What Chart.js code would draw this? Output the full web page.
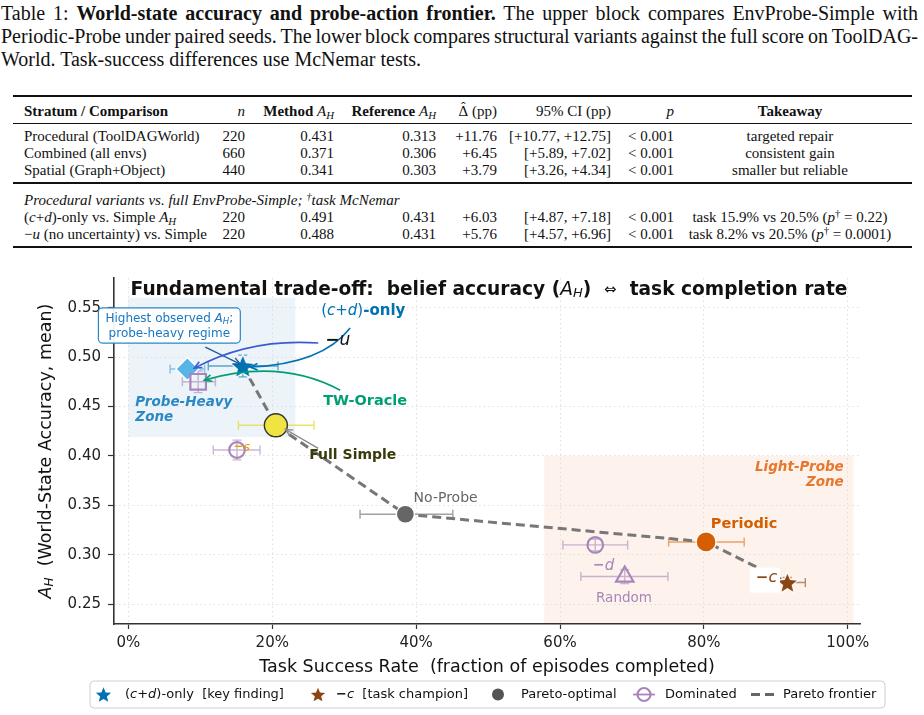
<!DOCTYPE html>
<html>
<head>
<meta charset="utf-8">
<title>World-state accuracy and probe-action frontier</title>
<script src="https://cdn.jsdelivr.net/npm/chart.js@4.4.1/dist/chart.umd.min.js"></script>
<style>
    body { margin: 0; background: #fff; }
    #page { position: relative; width: 924px; height: 715px; overflow: hidden; font-family: "Liberation Serif", "Times New Roman", serif; color: #111; }
    .capLine { position: absolute; left: 1px; font-size: 20px; line-height: 23px; white-space: nowrap; }
    .rule { position: absolute; left: 13px; width: 899px; background: #111; }
    .cell { position: absolute; font-size: 15px; line-height: 17px; height: 17px; white-space: nowrap; }
    .head b { font-weight: bold; }
    sub { font-size: 0.72em; vertical-align: -0.28em; line-height: 0; }
    sup { font-size: 0.72em; vertical-align: 0.5em; line-height: 0; }
    .hat { position: relative; display: inline-block; }
    .hat::after { content: "\02C6"; position: absolute; left: 0; right: 0; top: -4px; text-align: center; font-size: 14px; }
    #chartBox { position: absolute; left: 0; top: 262px; width: 924px; height: 453px; }
</style>
</head>
<body>
<div id="page">
    <div class="capLine just" style="top: 2px;">Table 1: <b>World-state accuracy and probe-action frontier.</b> The upper block compares EnvProbe-Simple with</div>
    <div class="capLine just" style="top: 25px;">Periodic-Probe under paired seeds. The lower block compares structural variants against the full score on ToolDAG-</div>
    <div class="capLine" style="top: 48px;">World. Task-success differences use McNemar tests.</div>

    <div class="rule" style="top: 95px; height: 1.6px;"></div>
    <div class="rule" style="top: 123px; height: 0.9px;"></div>
    <div class="rule" style="top: 182px; height: 1.5px;"></div>
    <div class="rule" style="top: 246px; height: 1.6px;"></div>
    <div id="tableBox"></div>

    <div id="chartBox"><canvas id="bieuDo" width="924" height="453"></canvas></div>
</div>

<script>
// table text
const tableHead = ["<b>Stratum / Comparison</b>", "<i>n</i>", "<b>Method</b> <i>A<sub>H</sub></i>", "<b>Reference</b> <i>A<sub>H</sub></i>",
    "<span class=\"hat\">&Delta;</span> (pp)", "95% CI (pp)", "<i>p</i>", "<b>Takeaway</b>"];
const tableRows = [
    ["Procedural (ToolDAGWorld)", "220", "0.431", "0.313", "+11.76", "[+10.77, +12.75]", "&lt; 0.001", "targeted repair"],
    ["Combined (all envs)", "660", "0.371", "0.306", "+6.45", "[+5.89, +7.02]", "&lt; 0.001", "consistent gain"],
    ["Spatial (Graph+Object)", "440", "0.341", "0.303", "+3.79", "[+3.26, +4.34]", "&lt; 0.001", "smaller but reliable"],
    ["(<i>c</i>+<i>d</i>)-only vs. Simple <i>A<sub>H</sub></i>", "220", "0.491", "0.431", "+6.03", "[+4.87, +7.18]", "&lt; 0.001", "task 15.9% vs 20.5% (<i>p</i><sup>&dagger;</sup> = 0.22)"],
    ["&minus;<i>u</i> (no uncertainty) vs. Simple", "220", "0.488", "0.431", "+5.76", "[+4.57, +6.96]", "&lt; 0.001", "task 8.2% vs 20.5% (<i>p</i><sup>&dagger;</sup> = 0.0001)"],
];
const tableNote = "<i>Procedural variants vs. full EnvProbe-Simple; <sup>&dagger;</sup>task McNemar</i>";
const colX = [24, 245, 334, 436, 497, 611, 674, 790];
const colAlign = ["l", "r", "r", "r", "r", "r", "r", "c"];
const rowMid = [136.5, 153.5, 170.5, 217, 234.5];

// chart data
const pointNames = ["(c+d)-only", "−u", "TW-Oracle", "Full Simple", "−s", "No-Probe", "Periodic", "−c", "−d", "Random"];
const taskRate = [0.159, 0.082, 0.097, 0.205, 0.151, 0.385, 0.803, 0.916, 0.649, 0.690];
const taskLow = [0.111, 0.058, 0.075, 0.153, 0.118, 0.322, 0.751, 0.890, 0.604, 0.629];
const taskHigh = [0.208, 0.106, 0.121, 0.258, 0.183, 0.451, 0.856, 0.941, 0.694, 0.750];
const accMean = [0.491, 0.488, 0.475, 0.431, 0.406, 0.341, 0.313, 0.272, 0.310, 0.278];
const accErr = [0.011, 0.005, 0.011, 0.006, 0.010, 0.004, 0.004, 0.005, 0.006, 0.007];
const frontierIdx = [0, 3, 5, 6, 7];
const xTicks = [0, 0.2, 0.4, 0.6, 0.8, 1.0];
const xTickLabels = ["0%", "20%", "40%", "60%", "80%", "100%"];
const yTicks = [0.25, 0.30, 0.35, 0.40, 0.45, 0.50, 0.55];
const yTickLabels = ["0.25", "0.30", "0.35", "0.40", "0.45", "0.50", "0.55"];

// ---------- table ----------
function veBang() {
    const box = document.getElementById("tableBox");
    function addRow(cells, mid) {
        cells.forEach((html, c) => {
            const d = document.createElement("div");
            d.className = "cell";
            d.innerHTML = html;
            d.style.top = (mid - 8.5) + "px";
            if (colAlign[c] === "l") {
                d.style.left = colX[c] + "px";
            } else if (colAlign[c] === "r") {
                d.style.left = (colX[c] - 300) + "px";
                d.style.width = "300px";
                d.style.textAlign = "right";
            } else {
                d.style.left = (colX[c] - 150) + "px";
                d.style.width = "300px";
                d.style.textAlign = "center";
            }
            box.appendChild(d);
        });
    }
    addRow(tableHead, 111);
    tableRows.forEach((r, i) => addRow(r, rowMid[i]));
    const note = document.createElement("div");
    note.className = "cell";
    note.innerHTML = tableNote;
    note.style.left = "24px";
    note.style.top = (200 - 8.5) + "px";
    box.appendChild(note);

    // justify the first two caption lines
    document.querySelectorAll(".capLine.just").forEach((el) => {
        const spaces = (el.textContent.match(/ /g) || []).length;
        const w = el.getBoundingClientRect().width;
        el.style.wordSpacing = ((917 - w) / spaces) + "px";
    });
}
veBang();

// ---------- chart ----------
const FONT = '"DejaVu Sans"';
const BLUE = "#0072B2", SKY = "#56B4E9", ORANGE = "#D55E00", YELLOW = "#F0E442";
const GREEN = "#009E73", BROWN = "#8B4513", GREY = "#666666", PURPLE = "#A886BB";

function starPath(g, x, y, R) {
    const r = R * 0.45;
    g.beginPath();
    for (let k = 0; k < 10; k++) {
        const a = -Math.PI / 2 + k * Math.PI / 5;
        const rr = k % 2 ? r : R;
        g.lineTo(x + rr * Math.cos(a), y + rr * Math.sin(a));
    }
    g.closePath();
}

function makeStar(R, fill, edge) {
    const c = document.createElement("canvas");
    const s = Math.ceil(2 * R + 4);
    c.width = s;
    c.height = s;
    const g = c.getContext("2d");
    starPath(g, s / 2, s / 2 + R * 0.1, R);
    g.fillStyle = fill;
    g.fill();
    g.lineWidth = 1.2;
    g.strokeStyle = edge;
    g.stroke();
    return c;
}

// marker look per point (style only)
const markerLook = {
    "(c+d)-only": { style: makeStar(13, BLUE, "#fff"), r: 12, fill: BLUE, edge: "#fff", bw: 0, err: "rgba(0,114,178,0.6)" },
    "−u": { style: "rectRot", r: 11.5, fill: SKY, edge: "#fff", bw: 1.5, err: "rgba(86,180,233,0.75)" },
    "TW-Oracle": { style: "rect", r: 11, fill: "rgba(0,0,0,0)", edge: PURPLE, bw: 2.2, err: "rgba(168,134,187,0.6)" },
    "Full Simple": { style: "circle", r: 11.5, fill: YELLOW, edge: "#333", bw: 1.4, err: "rgba(232,222,80,0.85)" },
    "−s": { style: "circle", r: 7.8, fill: "rgba(0,0,0,0)", edge: PURPLE, bw: 2.2, err: "rgba(168,134,187,0.6)" },
    "No-Probe": { style: "circle", r: 9, fill: GREY, edge: "#fff", bw: 1.3, err: "rgba(110,110,110,0.65)" },
    "Periodic": { style: "circle", r: 10, fill: ORANGE, edge: "#fff", bw: 1.3, err: "rgba(213,94,0,0.55)" },
    "−c": { style: makeStar(11.5, BROWN, "#fff"), r: 11, fill: BROWN, edge: "#fff", bw: 0, err: "rgba(139,69,19,0.6)" },
    "−d": { style: "circle", r: 7.8, fill: "rgba(0,0,0,0)", edge: PURPLE, bw: 2.2, err: "rgba(168,134,187,0.6)" },
    "Random": { style: "triangle", r: 10, fill: "rgba(0,0,0,0)", edge: PURPLE, bw: 2.2, err: "rgba(168,134,187,0.6)" },
};

// draw text made of several font pieces
function drawRich(g, parts, x, y, align) {
    let w = 0;
    parts.forEach((p) => {
        g.font = p.font;
        p.w = g.measureText(p.t).width;
        w += p.w;
    });
    let cx = align === "center" ? x - w / 2 : align === "right" ? x - w : x;
    g.textAlign = "left";
    g.textBaseline = "middle";
    parts.forEach((p) => {
        g.font = p.font;
        if (p.color) g.fillStyle = p.color;
        g.fillText(p.t, cx, y + (p.dy || 0));
        cx += p.w;
    });
    return w;
}

function arrow(g, x0, y0, cx, cy, x1, y1, color, lw) {
    g.save();
    g.strokeStyle = color;
    g.lineWidth = lw;
    g.beginPath();
    g.moveTo(x0, y0);
    if (cx !== null) g.quadraticCurveTo(cx, cy, x1, y1);
    else g.lineTo(x1, y1);
    g.stroke();
    const a = cx !== null ? Math.atan2(y1 - cy, x1 - cx) : Math.atan2(y1 - y0, x1 - x0);
    const h = 8;
    g.beginPath();
    g.moveTo(x1 - h * Math.cos(a - 0.42), y1 - h * Math.sin(a - 0.42));
    g.lineTo(x1, y1);
    g.lineTo(x1 - h * Math.cos(a + 0.42), y1 - h * Math.sin(a + 0.42));
    g.stroke();
    g.restore();
}

function roundRect(g, x, y, w, h, r) {
    g.beginPath();
    g.moveTo(x + r, y);
    g.arcTo(x + w, y, x + w, y + h, r);
    g.arcTo(x + w, y + h, x, y + h, r);
    g.arcTo(x, y + h, x, y, r);
    g.arcTo(x, y, x + w, y, r);
    g.closePath();
}

// shaded zones under the grid, error bars under the marks
const zonePlugin = {
    id: "zones",
    beforeDraw(chart) {
        const g = chart.ctx, xs = chart.scales.x, ys = chart.scales.y;
        g.save();
        g.fillStyle = "rgba(110,165,205,0.13)";
        g.fillRect(xs.getPixelForValue(0), ys.getPixelForValue(0.56),
            xs.getPixelForValue(0.232) - xs.getPixelForValue(0), ys.getPixelForValue(0.419) - ys.getPixelForValue(0.56));
        g.fillStyle = "rgba(235,140,70,0.1)";
        g.fillRect(xs.getPixelForValue(0.578), ys.getPixelForValue(0.40),
            xs.getPixelForValue(1.008) - xs.getPixelForValue(0.578), chart.chartArea.bottom - ys.getPixelForValue(0.40));
        g.restore();
    },
    beforeDatasetsDraw(chart) {
        const g = chart.ctx, xs = chart.scales.x, ys = chart.scales.y;
        g.save();
        pointNames.forEach((n, i) => {
            const y = ys.getPixelForValue(accMean[i]);
            const x = xs.getPixelForValue(taskRate[i]);
            const xl = xs.getPixelForValue(taskLow[i]), xh = xs.getPixelForValue(taskHigh[i]);
            const yl = ys.getPixelForValue(accMean[i] - accErr[i]), yh = ys.getPixelForValue(accMean[i] + accErr[i]);
            g.strokeStyle = markerLook[n].err;
            g.lineWidth = 1.4;
            g.beginPath();
            g.moveTo(xl, y); g.lineTo(xh, y);
            g.moveTo(xl, y - 4.5); g.lineTo(xl, y + 4.5);
            g.moveTo(xh, y - 4.5); g.lineTo(xh, y + 4.5);
            g.moveTo(x, yl); g.lineTo(x, yh);
            g.moveTo(x - 4.5, yl); g.lineTo(x + 4.5, yl);
            g.moveTo(x - 4.5, yh); g.lineTo(x + 4.5, yh);
            g.stroke();
        });
        g.restore();
    },
};

// labels, arrows, titles, legend
const overlayPlugin = {
    id: "overlay",
    afterDatasetsDraw(chart) {
        const g = chart.ctx, xs = chart.scales.x, ys = chart.scales.y;
        const X = (v) => xs.getPixelForValue(v);
        const Y = (v) => ys.getPixelForValue(v);
        g.save();

        // zone names
        drawRich(g, [{ t: "Probe-Heavy", font: "italic bold 13.5px " + FONT, color: "#2B88C4" }], X(0.0097), Y(0.4544), "left");
        drawRich(g, [{ t: "Zone", font: "italic bold 13.5px " + FONT, color: "#2B88C4" }], X(0.0097), Y(0.4391), "left");
        drawRich(g, [{ t: "Light-Probe", font: "italic bold 13.5px " + FONT, color: "#E8772E" }], X(0.9944), Y(0.3884), "right");
        drawRich(g, [{ t: "Zone", font: "italic bold 13.5px " + FONT, color: "#E8772E" }], X(0.9944), Y(0.3732), "right");

        // arrows
        arrow(g, X(0.1069), Y(0.5101), null, null, X(0.1556), Y(0.4929), "#1F5F99", 1.3);
        arrow(g, X(0.2639), Y(0.5142), X(0.1694), Y(0.5193), X(0.0917), Y(0.4888), "#3A5BD0", 1.6);
        arrow(g, X(0.3083), Y(0.5294), X(0.2694), Y(0.4929), X(0.1694), Y(0.4899), BLUE, 1.6);
        arrow(g, X(0.2944), Y(0.4665), X(0.2111), Y(0.499), X(0.1056), Y(0.4767), GREEN, 1.6);
        arrow(g, X(0.2639), Y(0.4077), null, null, X(0.2181), Y(0.427), "#888888", 1.4);

        // annotation box
        const bx0 = X(-0.0417), by0 = Y(0.5497), bx1 = X(0.1556), by1 = Y(0.5142);
        roundRect(g, bx0, by0, bx1 - bx0, by1 - by0, 4);
        g.fillStyle = "rgba(255,255,255,0.92)";
        g.fill();
        g.strokeStyle = "#2B88C4";
        g.lineWidth = 1.2;
        g.stroke();
        drawRich(g, [
            { t: "Highest observed ", font: "12px " + FONT, color: "#1A78C2" },
            { t: "A", font: "italic 12px " + FONT },
            { t: "H", font: "italic 8.5px " + FONT, dy: 2.5 },
            { t: ";", font: "12px " + FONT },
        ], X(0.0569), Y(0.5385), "center");
        drawRich(g, [{ t: "probe-heavy regime", font: "12px " + FONT, color: "#1A78C2" }], X(0.0569), Y(0.5233), "center");

        // point labels
        drawRich(g, [
            { t: "(", font: "15px " + FONT, color: BLUE },
            { t: "c", font: "italic 15px " + FONT },
            { t: "+", font: "15px " + FONT },
            { t: "d", font: "italic 15px " + FONT },
            { t: ")", font: "15px " + FONT },
            { t: "-only", font: "bold 15px " + FONT },
        ], X(0.268), Y(0.5461), "left");
        drawRich(g, [
            { t: "−", font: "bold 17px " + FONT, color: "#111" },
            { t: "u", font: "italic 17px " + FONT },
        ], X(0.2736), Y(0.5162), "left");
        drawRich(g, [{ t: "TW-Oracle", font: "bold 14.5px " + FONT, color: GREEN }], X(0.2708), Y(0.4554), "left");
        drawRich(g, [{ t: "Full Simple", font: "bold 14px " + FONT, color: "#3A3A0A" }], X(0.2514), Y(0.4006), "left");
        drawRich(g, [{ t: "No-Probe", font: "14px " + FONT, color: "#666" }], X(0.3965), Y(0.357), "left");
        drawRich(g, [{ t: "Periodic", font: "bold 14.5px " + FONT, color: ORANGE }], X(0.8097), Y(0.3306), "left");
        drawRich(g, [
            { t: "−", font: "bold 14px " + FONT, color: "#A886BB" },
            { t: "d", font: "italic 15px " + FONT },
        ], X(0.6458), Y(0.289), "left");
        drawRich(g, [{ t: "Random", font: "13.5px " + FONT, color: "#A886BB" }], X(0.6889), Y(0.2556), "center");
        drawRich(g, [
            { t: "−", font: "bold 12px " + FONT, color: "#E69F00" },
            { t: "s", font: "italic 13px " + FONT },
        ], X(0.1458), Y(0.4087), "left");

        // -c label on white box
        g.fillStyle = "#fff";
        g.fillRect(X(0.8639), Y(0.287), X(0.9058) - X(0.8639), Y(0.2617) - Y(0.287));
        drawRich(g, [
            { t: "−", font: "bold 15px " + FONT, color: "#8B4513" },
            { t: "c", font: "italic 16px " + FONT },
        ], X(0.8722), Y(0.2769), "left");
        g.restore();
    },
    afterDraw(chart) {
        const g = chart.ctx, area = chart.chartArea;
        g.save();
        // title
        drawRich(g, [
            { t: "Fundamental trade-off:  belief accuracy (", font: "bold 18.6px " + FONT, color: "#111" },
            { t: "A", font: "italic 18.6px " + FONT },
            { t: "H", font: "italic 13px " + FONT, dy: 4 },
            { t: ")  ", font: "bold 18.6px " + FONT },
            { t: "⇔", font: "15px " + FONT },
            { t: "  task completion rate", font: "bold 18.6px " + FONT },
        ], (area.left + area.right) / 2 + 2, 28, "center");

        // axis titles
        drawRich(g, [{ t: "Task Success Rate  (fraction of episodes completed)", font: "17.5px " + FONT, color: "#111" }],
            (area.left + area.right) / 2, 405, "center");
        g.translate(46, (area.top + area.bottom) / 2);
        g.rotate(-Math.PI / 2);
        drawRich(g, [
            { t: "A", font: "italic 17.5px " + FONT, color: "#111" },
            { t: "H", font: "italic 12px " + FONT, dy: 4 },
            { t: "  (World-State Accuracy, mean)", font: "17.5px " + FONT },
        ], 0, 0, "center");
        g.setTransform(1, 0, 0, 1, 0, 0);

        // legend
        const ly = 432.5;
        roundRect(g, 90, 419, 795, 27, 4);
        g.fillStyle = "rgba(255,255,255,0.9)";
        g.fill();
        g.strokeStyle = "#cfcfcf";
        g.lineWidth = 1;
        g.stroke();

        starPath(g, 103.5, ly + 0.8, 8);
        g.fillStyle = BLUE;
        g.fill();
        drawRich(g, [
            { t: "(", font: "13px " + FONT, color: "#111" },
            { t: "c", font: "italic 13px " + FONT },
            { t: "+", font: "13px " + FONT },
            { t: "d", font: "italic 13px " + FONT },
            { t: ")-only  [key finding]", font: "13px " + FONT },
        ], 125, ly, "left");

        starPath(g, 318, ly + 0.8, 7.5);
        g.fillStyle = BROWN;
        g.fill();
        drawRich(g, [
            { t: "−", font: "bold 13px " + FONT, color: "#111" },
            { t: "c", font: "italic 13px " + FONT },
            { t: "  [task champion]", font: "13px " + FONT },
        ], 336, ly, "left");

        g.beginPath();
        g.arc(498, ly, 6, 0, Math.PI * 2);
        g.fillStyle = "#555";
        g.fill();
        drawRich(g, [{ t: "Pareto-optimal", font: "13px " + FONT, color: "#111" }], 521, ly, "left");

        g.strokeStyle = PURPLE;
        g.lineWidth = 1.8;
        g.beginPath();
        g.moveTo(633, ly); g.lineTo(655, ly);
        g.stroke();
        g.lineWidth = 2.2;
        g.beginPath();
        g.arc(644, ly, 6.5, 0, Math.PI * 2);
        g.stroke();
        drawRich(g, [{ t: "Dominated", font: "13px " + FONT, color: "#111" }], 665, ly, "left");

        g.strokeStyle = "#666";
        g.lineWidth = 3;
        g.setLineDash([9, 5]);
        g.beginPath();
        g.moveTo(751, ly); g.lineTo(777, ly);
        g.stroke();
        g.setLineDash([]);
        drawRich(g, [{ t: "Pareto frontier", font: "13px " + FONT, color: "#111" }], 783, ly, "left");
        g.restore();
    },
};

function veBieuDo() {
    const scatterData = pointNames.map((n, i) => ({ x: taskRate[i], y: accMean[i] }));
    const frontierData = frontierIdx.map((i) => ({ x: taskRate[i], y: accMean[i] }));

    new Chart(document.getElementById("bieuDo"), {
        type: "scatter",
        data: {
            datasets: [
                {
                    type: "line",
                    label: "Pareto frontier",
                    data: frontierData,
                    showLine: true,
                    borderColor: "#777",
                    borderWidth: 3,
                    borderDash: [9, 5],
                    pointRadius: 0,
                    fill: false,
                    order: 2,
                },
                {
                    label: "points",
                    data: scatterData,
                    pointStyle: pointNames.map((n) => markerLook[n].style),
                    pointRadius: pointNames.map((n) => markerLook[n].r),
                    pointBackgroundColor: pointNames.map((n) => markerLook[n].fill),
                    pointBorderColor: pointNames.map((n) => markerLook[n].edge),
                    pointBorderWidth: pointNames.map((n) => markerLook[n].bw),
                    order: 1,
                },
            ],
        },
        options: {
            responsive: false,
            animation: false,
            devicePixelRatio: 1,
            layout: { padding: { left: 0, right: 64, top: 16, bottom: 0 } },
            plugins: { legend: { display: false }, tooltip: { enabled: false } },
            scales: {
                x: {
                    type: "linear",
                    min: -0.02,
                    max: 1.017,
                    afterFit: (s) => { s.height = 91; },
                    afterBuildTicks: (s) => { s.ticks = xTicks.map((v) => ({ value: v })); },
                    ticks: {
                        callback: (v, i) => xTickLabels[i],
                        font: { family: "DejaVu Sans", size: 15 },
                        color: "#222",
                        padding: 5,
                        maxRotation: 0,
                        autoSkip: false,
                    },
                    grid: { color: "#dddddd", lineWidth: 0.9, tickColor: "#333", tickLength: 5, tickWidth: 1.2, tickBorderDash: [] },
                    border: { color: "#333", width: 1.6, dash: [1.5, 3] },
                },
                y: {
                    type: "linear",
                    min: 0.23,
                    max: 0.58,
                    afterFit: (s) => { s.width = 114; },
                    afterBuildTicks: (s) => { s.ticks = yTicks.map((v) => ({ value: v })); },
                    ticks: {
                        callback: (v, i) => yTickLabels[i],
                        font: { family: "DejaVu Sans", size: 15 },
                        color: "#222",
                        padding: 7,
                        autoSkip: false,
                    },
                    grid: { color: "#dddddd", lineWidth: 0.9, tickColor: "#333", tickLength: 6, tickWidth: 1.2, tickBorderDash: [] },
                    border: { color: "#333", width: 1.6, dash: [1.5, 3] },
                },
            },
        },
        plugins: [zonePlugin, overlayPlugin],
    });
}

veBieuDo();
</script>
</body>
</html>
